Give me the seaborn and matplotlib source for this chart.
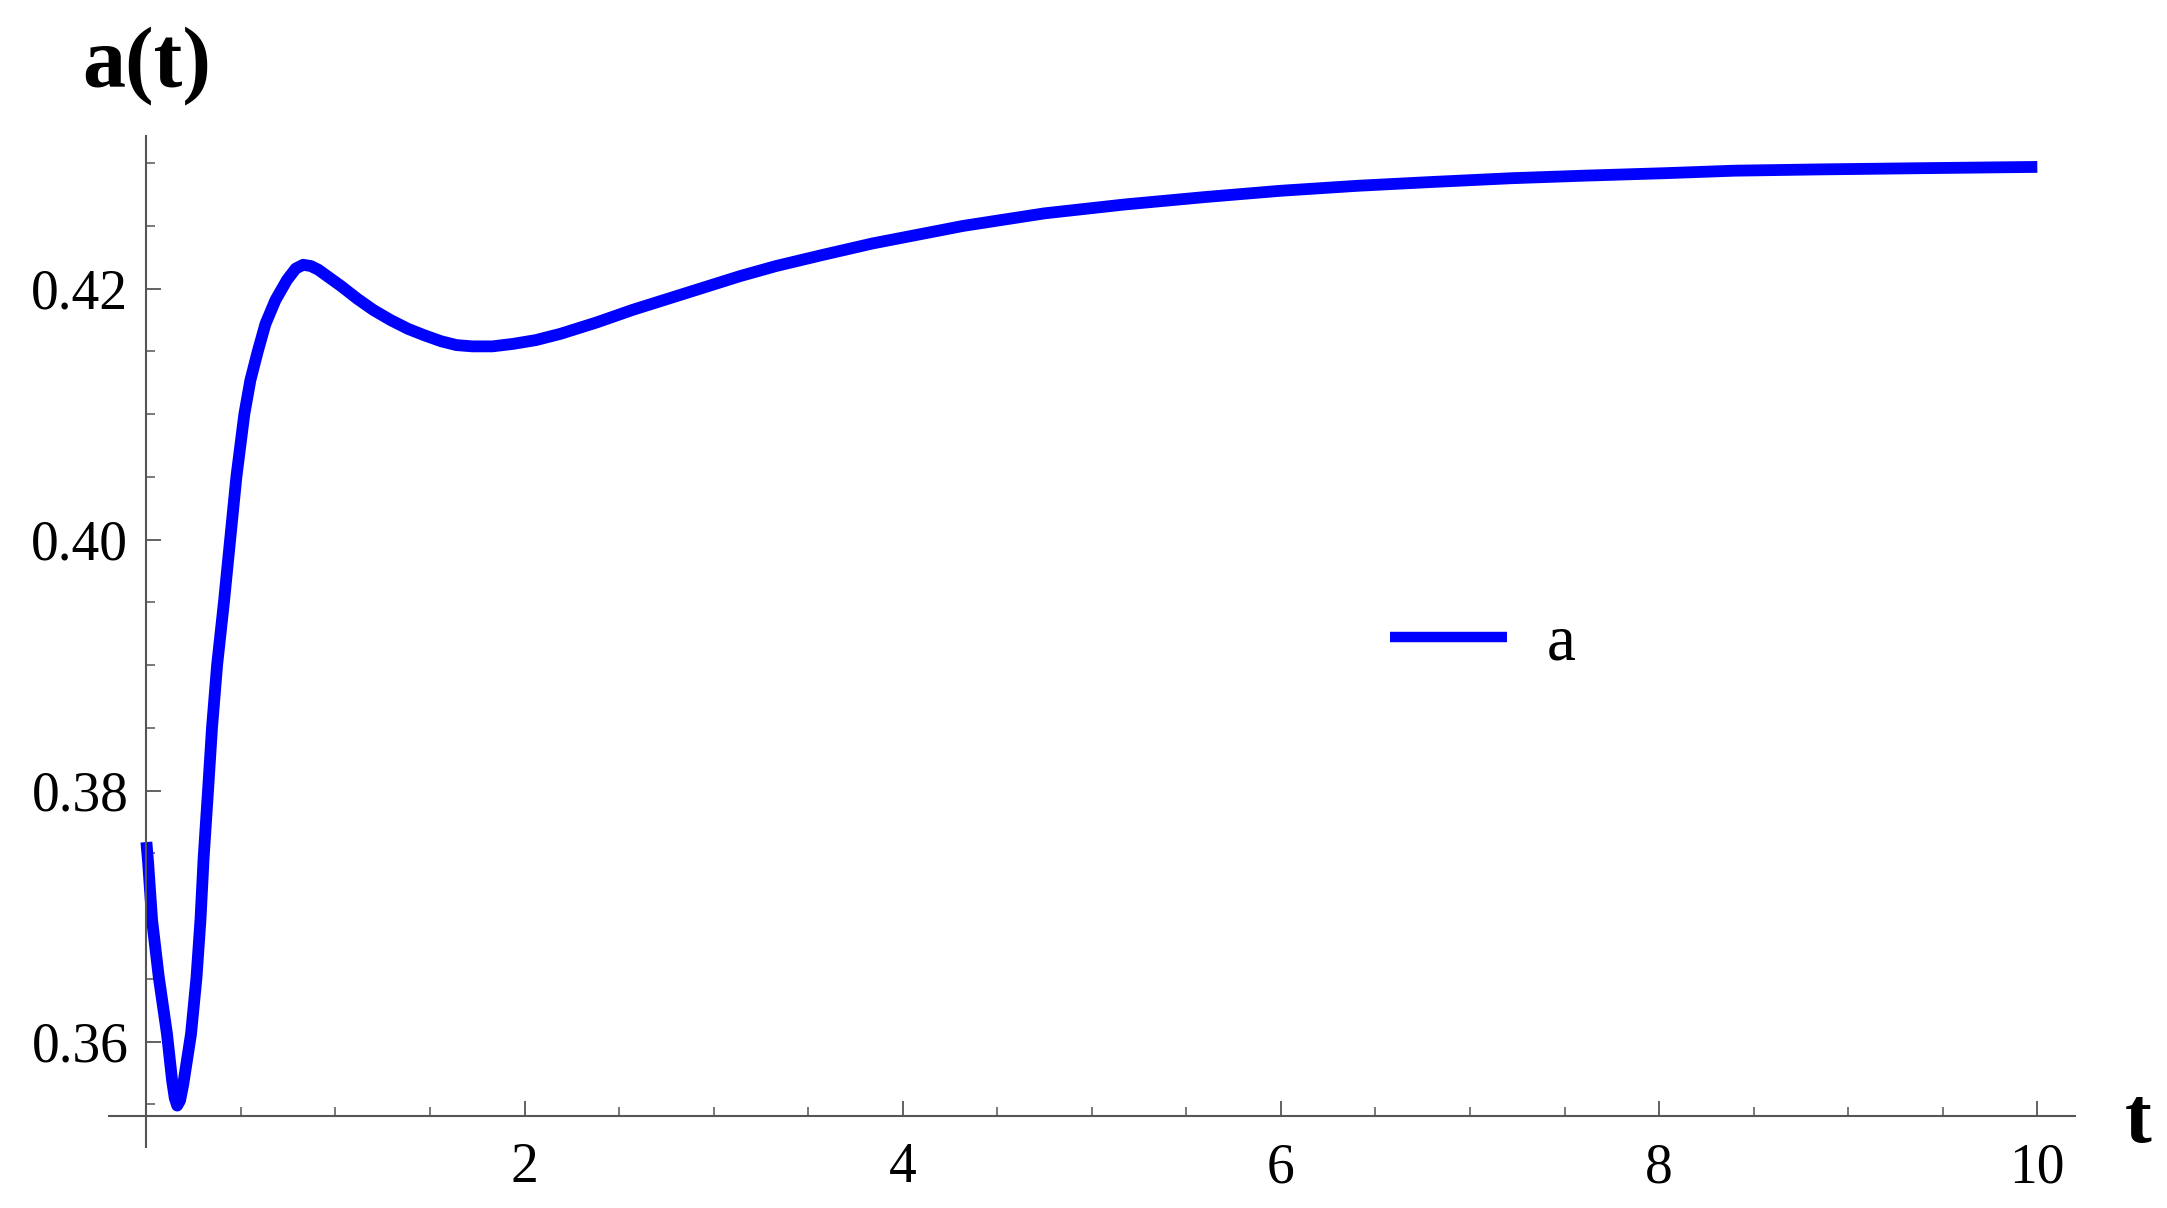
import numpy as np
import pandas as pd
import matplotlib
matplotlib.use("Agg")
import matplotlib.pyplot as plt
import seaborn as sns

t_values = [0.00, 0.009, 0.030, 0.065, 0.109, 0.136, 0.150, 0.163, 0.178, 0.195,
            0.236, 0.265, 0.286, 0.303, 0.326, 0.347, 0.374, 0.410, 0.443, 0.476,
            0.518, 0.550, 0.589, 0.630, 0.683, 0.744, 0.790, 0.829, 0.870, 0.910,
            0.956, 1.030, 1.115, 1.200, 1.291, 1.383, 1.467, 1.560, 1.640, 1.724,
            1.830, 1.940, 2.060, 2.190, 2.380, 2.570, 2.760, 2.950, 3.140, 3.330,
            3.580, 3.840, 4.080, 4.320, 4.750, 5.170, 5.600, 6.000, 6.410, 6.800,
            7.220, 7.600, 8.030, 8.400, 8.840, 9.400, 10.00]
a_values = [0.3759, 0.3743, 0.3697, 0.3652, 0.3606, 0.3569, 0.3555, 0.3549, 0.3553, 0.3566,
            0.3606, 0.3651, 0.3697, 0.3747, 0.3800, 0.3850, 0.3900, 0.3950, 0.4000, 0.4050,
            0.4100, 0.4127, 0.4150, 0.4172, 0.4191, 0.4207, 0.4216, 0.4219, 0.4218, 0.4215,
            0.4210, 0.4202, 0.4192, 0.4183, 0.4175, 0.4168, 0.4163, 0.4158, 0.4155, 0.4154,
            0.4154, 0.4156, 0.4159, 0.4164, 0.4173, 0.4183, 0.4192, 0.4201, 0.4210, 0.4218,
            0.4227, 0.4236, 0.4243, 0.4250, 0.4260, 0.4267, 0.4273, 0.4278, 0.4282, 0.4285,
            0.4288, 0.4290, 0.4292, 0.4294, 0.4295, 0.4296, 0.4297]

x_major = [2, 4, 6, 8, 10]
x_minor = [0.5, 1, 1.5, 2.5, 3, 3.5, 4.5, 5, 5.5, 6.5, 7, 7.5, 8.5, 9, 9.5]
y_major = [0.36, 0.38, 0.40, 0.42]
y_labels = ["0.36", "0.38", "0.40", "0.42"]
y_minor = [0.355, 0.365, 0.37, 0.375, 0.385, 0.39, 0.395, 0.405, 0.41, 0.415, 0.425, 0.43]

df = pd.DataFrame({"t": t_values, "a": a_values})

sns.set_style("ticks")
plt.rcParams["font.family"] = ["Liberation Serif", "DejaVu Serif"]
plt.rcParams["text.color"] = "black"

fig = plt.figure(figsize=(21.67, 12.08), dpi=100)
ax = fig.add_axes([0.0501, 0.0505, 0.9075, 0.8373])

sns.lineplot(data=df, x="t", y="a", ax=ax, color="#0000ff", linewidth=8.5,
             label="a", sort=False, estimator=None, solid_capstyle="butt",
             solid_joinstyle="round")

ax.set_xlim(-0.2, 10.2)
ax.set_ylim(0.3516, 0.4322)

# Mathematica-style axes crossing
axis_col = "#555555"
ax.spines["left"].set_position(("data", 0))
ax.spines["bottom"].set_position(("data", 0.3541))
ax.spines["top"].set_visible(False)
ax.spines["right"].set_visible(False)
for s in ["left", "bottom"]:
    ax.spines[s].set_color(axis_col)
    ax.spines[s].set_linewidth(1.5)

ax.set_xticks(x_major)
ax.set_xticklabels([str(v) for v in x_major])
ax.set_xticks(x_minor, minor=True)
ax.set_yticks(y_major)
ax.set_yticklabels(y_labels)
ax.set_yticks(y_minor, minor=True)

ax.tick_params(which="major", direction="in", length=11, width=1.3, color=axis_col,
               labelsize=40, labelcolor="black")
ax.tick_params(which="minor", direction="in", length=6.5, width=1.1, color=axis_col)
ax.tick_params(axis="x", which="major", pad=19)
ax.tick_params(axis="y", which="major", pad=13)

ax.set_xlabel("")
ax.set_ylabel("")

fig.text(0.0676, 0.9288, "a(t)", fontsize=62, fontweight="bold", color="black",
         ha="center", va="baseline")
fig.text(0.9866, 0.0546, "t", fontsize=58, fontweight="bold", color="black",
         ha="center", va="baseline")

leg = ax.legend(loc="center left", bbox_to_anchor=(0.6414, 0.467),
                bbox_transform=fig.transFigure, frameon=False, fontsize=47,
                handlelength=1.8, handletextpad=0.6, borderpad=0, borderaxespad=0)
for text in leg.get_texts():
    text.set_color("black")
for line in leg.get_lines():
    line.set_linewidth(7.5)
    line.set_solid_capstyle("butt")

fig.savefig("out.png", dpi=100)
